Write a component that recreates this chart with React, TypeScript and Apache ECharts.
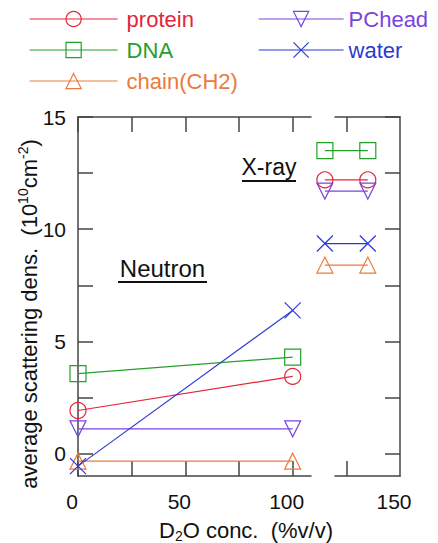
import React, { useEffect, useRef } from "react";
import * as echarts from "echarts";

// ---- data ----
const seriesNames = ["protein", "DNA", "chain(CH2)", "PChead", "water"];
const seriesColors = ["#e3263a", "#22a02a", "#ec7a3c", "#7a44e0", "#2a3ad0"];
const seriesSymbols = [
  "circle",
  "rect",
  "triangle",
  "path://M0,0L10,0L5,10Z",
  "path://M0,0L10,10M10,0L0,10",
];
const neutronX = [0, 100];
const xrayX = [115, 135];
const proteinNeutron = [1.92, 3.44];
const dnaNeutron = [3.56, 4.3];
const chainNeutron = [-0.34, -0.34];
const pcheadNeutron = [1.1, 1.1];
const waterNeutron = [-0.56, 6.38];
const proteinXray = [12.2, 12.2];
const dnaXray = [13.5, 13.5];
const chainXray = [8.4, 8.4];
const pcheadXray = [11.7, 11.7];
const waterXray = [9.36, 9.36];
const neutronValues = [proteinNeutron, dnaNeutron, chainNeutron, pcheadNeutron, waterNeutron];
const xrayValues = [proteinXray, dnaXray, chainXray, pcheadXray, waterXray];

const xTickValues = [0, 25, 50, 75, 100];
const xLabelValues = [0, 50, 100];
const xBreakTickValues = [125];
const xBreakLabelValues = [150];
const yTickValues = [0, 2.5, 5, 7.5, 10, 12.5, 15];
const yLabelValues = [0, 5, 10, 15];
const legendLeftNames = ["protein", "DNA", "chain(CH2)"];
const legendRightNames = ["PChead", "water"];

const FONT = '"Liberation Sans", Arial, Helvetica, sans-serif';
const AXIS_COLOR = "#444";
const TEXT_COLOR = "#111";

export default function App() {
  const ref = useRef<HTMLDivElement>(null);

  useEffect(() => {
    if (!ref.current) return;
    const chart = echarts.init(ref.current, undefined, { renderer: "svg" });

    const X_MIN = 0;
    const X_MAX = 150;
    const plotLeft = 78;
    const plotWidth = 322;
    const leftFrameWidth = 233;
    const rightFrameLeft = 335;
    const rightFrameWidth = plotLeft + plotWidth - rightFrameLeft;
    const pxPerUnit = plotWidth / (X_MAX - X_MIN);
    const leftFrameMax = X_MIN + leftFrameWidth / pxPerUnit;
    const rightFrameMin = X_MAX - rightFrameWidth / pxPerUnit;

    const axisLine = { show: true, onZero: false, lineStyle: { color: AXIS_COLOR, width: 1.5 } };
    const tick = (values: number[]) => ({
      show: true,
      inside: true,
      length: 15,
      customValues: values,
      lineStyle: { color: AXIS_COLOR, width: 1.5 },
    });
    const noLabel = { show: false };

    const series: any[] = [];
    seriesNames.forEach((name, i) => {
      const common = {
        type: "line",
        name,
        symbol: seriesSymbols[i],
        symbolSize: 16,
        showSymbol: true,
        clip: false,
        xAxisIndex: 0,
        yAxisIndex: 0,
        itemStyle: { color: "rgba(0,0,0,0)", borderColor: seriesColors[i], borderWidth: 1.2 },
        lineStyle: { color: seriesColors[i], width: 1.2 },
        emphasis: { disabled: true },
      };
      series.push({ ...common, data: neutronX.map((x, j) => [x, neutronValues[i][j]]) });
      series.push({ ...common, data: xrayX.map((x, j) => [x, xrayValues[i][j]]) });
    });

    const legendText = (names: string[]) =>
      names.map((n) => ({
        name: n,
        textStyle: { color: seriesColors[seriesNames.indexOf(n)] },
      }));

    const legendCommon = {
      orient: "vertical",
      top: 8,
      padding: 0,
      itemHeight: 19,
      itemGap: 9,
      selectedMode: false,
      itemStyle: { borderWidth: 1.2 },
      lineStyle: { width: 1.2 },
    };

    const richBase = { fontSize: 22, fontFamily: FONT, fill: TEXT_COLOR, lineHeight: 26 };
    const richSup = { fontSize: 14, fontFamily: FONT, fill: TEXT_COLOR, lineHeight: 14, verticalAlign: "top" };
    const richSub = { fontSize: 14, fontFamily: FONT, fill: TEXT_COLOR, lineHeight: 14, verticalAlign: "bottom" };

    const xLabelStyle = (values: number[]) => ({
      customValues: values,
      fontSize: 21,
      fontFamily: FONT,
      color: TEXT_COLOR,
      margin: 15,
      padding: [0, 12, 0, 0],
    });

    chart.setOption({
      animation: false,
      backgroundColor: "#fff",
      legend: [
        {
          ...legendCommon,
          left: 29,
          itemWidth: 88,
          textStyle: { fontSize: 22, fontFamily: FONT, padding: [0, 0, 0, 4] },
          data: legendText(legendLeftNames),
        },
        {
          ...legendCommon,
          left: 258,
          itemWidth: 85,
          textStyle: { fontSize: 22, fontFamily: FONT },
          data: legendText(legendRightNames),
        },
      ],
      grid: [
        { left: plotLeft, top: 117, width: plotWidth, height: 359 },
        { left: plotLeft, top: 117, width: leftFrameWidth, height: 359 },
        { left: rightFrameLeft, top: 117, width: rightFrameWidth, height: 359 },
      ],
      xAxis: [
        { gridIndex: 0, type: "value", min: X_MIN, max: X_MAX, show: false },
        {
          gridIndex: 1,
          type: "value",
          position: "bottom",
          min: X_MIN,
          max: leftFrameMax,
          axisLine,
          axisTick: tick(xTickValues),
          splitLine: { show: false },
          axisLabel: xLabelStyle(xLabelValues),
        },
        {
          gridIndex: 1,
          type: "value",
          position: "top",
          min: X_MIN,
          max: leftFrameMax,
          axisLine,
          axisTick: tick(xTickValues),
          splitLine: { show: false },
          axisLabel: noLabel,
        },
        {
          gridIndex: 2,
          type: "value",
          position: "bottom",
          min: rightFrameMin,
          max: X_MAX,
          axisLine,
          axisTick: tick(xBreakTickValues),
          splitLine: { show: false },
          axisLabel: xLabelStyle(xBreakLabelValues),
        },
        {
          gridIndex: 2,
          type: "value",
          position: "top",
          min: rightFrameMin,
          max: X_MAX,
          axisLine,
          axisTick: tick(xBreakTickValues),
          splitLine: { show: false },
          axisLabel: noLabel,
        },
      ],
      yAxis: [
        { gridIndex: 0, type: "value", min: -1, max: 15, show: false },
        {
          gridIndex: 1,
          type: "value",
          position: "left",
          min: -1,
          max: 15,
          axisLine,
          axisTick: tick(yTickValues),
          splitLine: { show: false },
          axisLabel: {
            customValues: yLabelValues,
            fontSize: 21,
            fontFamily: FONT,
            color: TEXT_COLOR,
            margin: 12,
          },
        },
        {
          gridIndex: 2,
          type: "value",
          position: "right",
          min: -1,
          max: 15,
          axisLine,
          axisTick: tick(yTickValues),
          splitLine: { show: false },
          axisLabel: noLabel,
        },
      ],
      series,
      graphic: [
        {
          type: "text",
          x: 29,
          y: 314,
          rotation: Math.PI / 2,
          style: {
            text: "{n|average scattering dens.  (10}{s|10}{n|cm}{s|-2}{n|)}",
            align: "center",
            verticalAlign: "middle",
            rich: { n: richBase, s: richSup },
          },
        },
        {
          type: "text",
          x: 246,
          y: 530,
          style: {
            text: "{n|D}{b|2}{n|O conc.  (%v/v)}",
            align: "center",
            verticalAlign: "middle",
            rich: { n: richBase, b: richSub },
          },
        },
        {
          type: "text",
          x: 162.5,
          y: 268.5,
          style: {
            text: "Neutron",
            fontSize: 24,
            fontFamily: FONT,
            fill: TEXT_COLOR,
            align: "center",
            verticalAlign: "middle",
          },
        },
        { type: "rect", shape: { x: 118, y: 281, width: 89, height: 2 }, style: { fill: TEXT_COLOR } },
        {
          type: "text",
          x: 269,
          y: 166.5,
          style: {
            text: "X-ray",
            fontSize: 23,
            fontFamily: FONT,
            fill: TEXT_COLOR,
            align: "center",
            verticalAlign: "middle",
          },
        },
        { type: "rect", shape: { x: 242, y: 180, width: 54, height: 2 }, style: { fill: TEXT_COLOR } },
      ],
    });

    return () => chart.dispose();
  }, []);

  return (
    <div
      ref={ref}
      style={{ position: "fixed", left: 0, top: 0, width: 438, height: 543, background: "#fff" }}
    />
  );
}
